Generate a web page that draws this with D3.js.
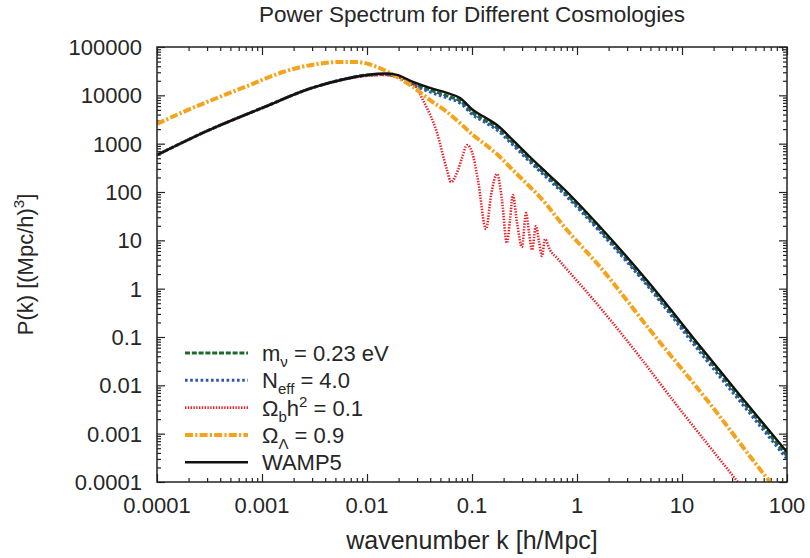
<!DOCTYPE html>
<html>
<head>
<meta charset="utf-8">
<script src="https://cdn.jsdelivr.net/npm/d3@7"></script>
<style>
body { margin: 0; background: #fff; }
text { font-family: "Liberation Sans", Arial, sans-serif; fill: #262626; }
</style>
</head>
<body>
<div id="chart"></div>
<script>
// k grid [h/Mpc]
const kSmooth = [1e-4, 2.99e-4, 1e-3, 2.99e-3, 6.17e-3, 0.01, 0.01483, 0.0193, 0.0274, 0.0398, 0.0578, 0.0769,
    0.102, 0.136, 0.173, 0.245, 0.357, 0.518, 0.736, 1.66, 4.96, 14.8, 38.1, 100];
const pWmap5 = [582, 1830, 5470, 14200, 21800, 26400, 28300, 26400, 18900, 14200, 11200, 8810,
    4970, 3400, 2430, 1190, 530, 247, 121, 18.9, 1.25, 0.065, 0.00521, 0.000417];
const pMnu = [582, 1830, 5470, 14200, 21800, 26400, 26970, 25160, 17180, 12910, 9710, 7640,
    4310, 2950, 2107, 1032, 460, 214, 105, 16.4, 1.08, 0.0564, 0.00452, 0.000345];
const pNeff = [582, 1830, 5470, 14200, 21800, 25770, 26970, 24000, 16390, 11740, 8830, 6940,
    3920, 2680, 1915, 938, 418, 195, 95.3, 14.9, 0.985, 0.0488, 0.00391, 0.000299];

const kBaryon = [1e-4, 2.99e-4, 1e-3, 2.99e-3, 6.17e-3, 0.01, 0.01483, 0.0193, 0.0274, 0.0341, 0.0465, 0.0578,
    0.0631, 0.0736, 0.0803, 0.0897, 0.1, 0.114, 0.136, 0.152, 0.173, 0.193, 0.215, 0.230, 0.245, 0.268,
    0.299, 0.327, 0.349, 0.373, 0.407, 0.434, 0.464, 0.496, 0.553, 0.646, 0.737, 1.39, 3.41, 8.2, 34, 100];
const pBaryon = [582, 1830, 5470, 14200, 21500, 25500, 26400, 23900, 18000, 8000, 1660, 285,
    161, 285, 505, 938, 671, 177, 17.1, 86.8, 236, 68, 8.8, 26.3, 86.8, 23.9,
    7.28, 36.7, 14.9, 6.31, 19.8, 9.69, 4.74, 10.6, 6.31, 4.3, 3.08, 0.641, 0.059, 0.0049, 1e-4, 5.2e-6];

const kLambda = [1e-4, 1.77e-4, 3.73e-4, 7.69e-4, 1.58e-3, 3.34e-3, 5.53e-3, 8.03e-3, 0.01245, 0.01656, 0.0274,
    0.0398, 0.0578, 0.0769, 0.102, 0.136, 0.185, 0.245, 0.357, 0.444, 0.803, 1.66, 4.96, 17.3, 68.9, 100];
const pLambda = [2550, 4520, 8810, 16400, 30400, 44500, 49000, 49000, 38600, 29000, 14900,
    8000, 4520, 2670, 1510, 938, 530, 285, 127, 78.7, 16.3, 2.81, 0.139, 0.00497, 1e-4, 3.7e-5];

const xTicks = [1e-4, 1e-3, 0.01, 0.1, 1, 10, 100];
const xTickLabels = ["0.0001", "0.001", "0.01", "0.1", "1", "10", "100"];
const yTicks = [1e-4, 1e-3, 0.01, 0.1, 1, 10, 100, 1000, 10000, 100000];
const yTickLabels = ["0.0001", "0.001", "0.01", "0.1", "1", "10", "100", "1000", "10000", "100000"];

const series = [
    {k: kSmooth, p: pMnu, color: "#1d6a2c", dash: "5,1.8", w: 3,
        label: [{t: "m"}, {t: "ν", sub: true}, {t: " = 0.23 eV"}]},
    {k: kSmooth, p: pNeff, color: "#2b55b4", dash: "2.6,2.6", w: 3,
        label: [{t: "N"}, {t: "eff", sub: true}, {t: " = 4.0"}]},
    {k: kBaryon, p: pBaryon, color: "#e82228", dash: "1.4,1.4", w: 2.6,
        label: [{t: "Ω"}, {t: "b", sub: true}, {t: "h"}, {t: "2", sup: true}, {t: " = 0.1"}]},
    {k: kLambda, p: pLambda, color: "#f5a31c", dash: "8,2.2,2.2,2.2", w: 4,
        label: [{t: "Ω"}, {t: "Λ", sub: true}, {t: " = 0.9"}]},
    {k: kSmooth, p: pWmap5, color: "#111111", dash: null, w: 2.4,
        label: [{t: "WAMP5"}]}
];

const margin = {top: 47, right: 23, bottom: 76, left: 157},
    width = 810 - margin.left - margin.right,
    height = 558 - margin.top - margin.bottom;

const svg = d3.select("#chart").append("svg")
    .attr("width", 810)
    .attr("height", 558);

const g = svg.append("g")
    .attr("transform", "translate(" + margin.left + "," + margin.top + ")");

const x = d3.scaleLog().domain([1e-4, 100]).range([0, width]);
const y = d3.scaleLog().domain([1e-4, 1e5]).range([height, 0]);

g.append("clipPath").attr("id", "clip")
    .append("rect").attr("width", width).attr("height", height);

// minor ticks are the 2..9 multiples that log scale gives back
const isMajor = v => Math.abs(Math.log10(v) - Math.round(Math.log10(v))) < 1e-6;
const xMinor = x.ticks().filter(v => !isMajor(v));
const yMinor = y.ticks().filter(v => !isMajor(v));

function tickAxis(axis, vals, size) {
    return axis.tickValues(vals).tickSize(-size).tickFormat("");
}
const axes = [
    [d3.axisBottom, x, "translate(0," + height + ")", xMinor, xTicks],
    [d3.axisTop, x, "translate(0,0)", xMinor, xTicks],
    [d3.axisLeft, y, "translate(0,0)", yMinor, yTicks],
    [d3.axisRight, y, "translate(" + width + ",0)", yMinor, yTicks]
];
axes.forEach(a => {
    const gm = g.append("g").attr("transform", a[2]).call(tickAxis(a[0](a[1]), a[3], 4));
    const gM = g.append("g").attr("transform", a[2]).call(tickAxis(a[0](a[1]), a[4], 8));
    [gm, gM].forEach(s => {
        s.select(".domain").remove();
        s.selectAll("line").attr("stroke", "#222").attr("stroke-width", 1.2);
    });
});

// tick labels
g.append("g").selectAll("text")
    .data(xTicks)
    .enter().append("text")
    .attr("x", d => x(d))
    .attr("y", height + 31)
    .attr("text-anchor", "middle")
    .style("font-size", "22px")
    .text((d, i) => xTickLabels[i]);

g.append("g").selectAll("text")
    .data(yTicks)
    .enter().append("text")
    .attr("x", -15)
    .attr("y", d => y(d) + 8)
    .attr("text-anchor", "end")
    .style("font-size", "22px")
    .text((d, i) => yTickLabels[i]);

// curves
const line = d3.line()
    .x(d => x(d[0]))
    .y(d => y(d[1]))
    .curve(d3.curveMonotoneX);

const plot = g.append("g").attr("clip-path", "url(#clip)");
series.forEach(s => {
    plot.append("path")
        .datum(s.k.map((k, i) => [k, s.p[i]]))
        .attr("fill", "none")
        .attr("stroke", s.color)
        .attr("stroke-width", s.w)
        .attr("stroke-dasharray", s.dash)
        .attr("d", line);
});

// frame
g.append("rect")
    .attr("width", width).attr("height", height)
    .attr("fill", "none").attr("stroke", "#222").attr("stroke-width", 1.5);

// legend
function richText(sel, parts, big, small) {
    let cur = 0;
    parts.forEach(p => {
        const off = p.sub ? 6 : p.sup ? -9 : 0;
        sel.append("tspan")
            .attr("dy", off - cur)
            .style("font-size", (p.sub || p.sup ? small : big) + "px")
            .text(p.t);
        cur = off;
    });
}
const legend = g.append("g").attr("transform", "translate(28,306)");
series.forEach((s, i) => {
    const row = legend.append("g").attr("transform", "translate(0," + (i * 27.3) + ")");
    row.append("line")
        .attr("x1", 0).attr("x2", 63)
        .attr("stroke", s.color)
        .attr("stroke-width", s.w)
        .attr("stroke-dasharray", s.dash);
    richText(row.append("text").attr("x", 77).attr("y", 8), s.label, 22, 15);
});

// titles
svg.append("text")
    .attr("x", margin.left + width / 2)
    .attr("y", 22)
    .attr("text-anchor", "middle")
    .style("font-size", "22.5px")
    .text("Power Spectrum for Different Cosmologies");

svg.append("text")
    .attr("x", margin.left + width / 2)
    .attr("y", 549)
    .attr("text-anchor", "middle")
    .style("font-size", "25px")
    .text("wavenumber k [h/Mpc]");

const yl = svg.append("text")
    .attr("transform", "translate(33," + (margin.top + height / 2) + ")rotate(-90)")
    .attr("text-anchor", "middle");
richText(yl, [{t: "P(k) [(Mpc/h)"}, {t: "3", sup: true}, {t: "]"}], 22, 15);
</script>
</body>
</html>
